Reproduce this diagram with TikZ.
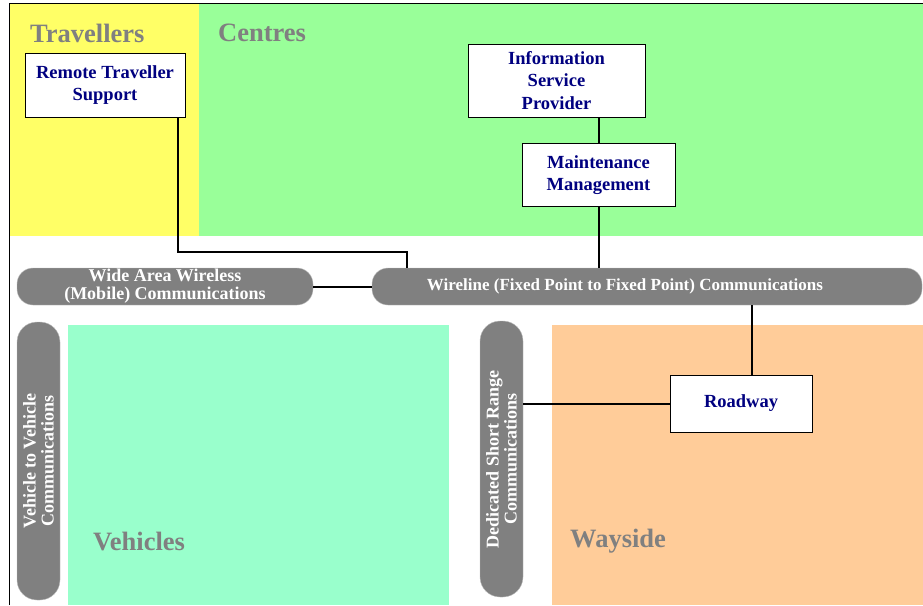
\documentclass[tikz,border=0pt]{standalone}
\usepackage{fontspec}
\setmainfont{Liberation Serif}
\usetikzlibrary{positioning}
\definecolor{travel}{HTML}{FFFF66}
\definecolor{centre}{HTML}{99FF99}
\definecolor{vehicle}{HTML}{99FFCC}
\definecolor{wayside}{HTML}{FFCC99}
\definecolor{pillgray}{HTML}{808080}
\definecolor{boxtext}{HTML}{000080}
\tikzset{
  areatitle/.style={text=pillgray,font=\fontsize{26.5}{30}\selectfont\bfseries,anchor=west,inner sep=0pt},
  subsys/.style={draw=black,fill=white,thick,text=boxtext,align=center,
    font=\fontsize{18.5}{22.5}\selectfont\bfseries,inner sep=0pt},
  commpill/.style={fill=pillgray,draw=pillgray!50,text=white,align=center,rounded corners=16pt,
    font=\fontsize{18}{18}\selectfont\bfseries,inner sep=0pt},
  link/.style={draw=black,line width=2pt}
}
\begin{document}
\begin{tikzpicture}[x=1pt,y=-1pt]
\useasboundingbox (0,0) rectangle (923,605);
% areas
\fill[travel] (10,3) rectangle (199,236);
\fill[centre] (199,3) rectangle (923,236);
\fill[vehicle] (68,325) rectangle (449,605);
\fill[wayside] (552,325) rectangle (923,605);
\draw[thick] (9,605) -- (9,3) -- (923,3);
% area titles
\node[areatitle] (ttrav) at (30,33) {Travellers};
\node[areatitle] (tcent) at (218,33) {Centres};
\node[areatitle] (tveh) at (93,541) {Vehicles};
\node[areatitle] (tway) at (570,541) {Wayside};
% subsystems
\node[subsys,minimum width=160pt,minimum height=64pt] (rts) at (105,85) {Remote Traveller\\Support};
\node[subsys,minimum width=177pt,minimum height=73pt] (isp) at (556.5,80.5) {Information\\Service\\Provider};
\node[subsys,minimum width=153pt,minimum height=63pt] (mm) at (598.5,175) {Maintenance\\Management};
\node[subsys,minimum width=142pt,minimum height=57pt] (road) at (741,403.5) {Roadway};
% communications
\node[commpill,minimum width=296pt,minimum height=37pt] (waw) at (165,286.5) {Wide Area Wireless\\(Mobile) Communications};
\node[commpill,minimum width=550pt,minimum height=37pt,font=\fontsize{17}{17}\selectfont\bfseries] (wire) at (647,286.5) {Wireline (Fixed Point to Fixed Point) Communications\hspace*{44pt}};
\node[commpill,minimum width=278pt,minimum height=43pt,rounded corners=20pt,rotate=90] (v2v) at (38.5,461) {Vehicle to Vehicle\\Communications};
\node[commpill,minimum width=276pt,minimum height=43pt,rounded corners=20pt,rotate=90] (dsrc) at (501.5,459) {Dedicated Short Range\\Communications};
% links
\coordinate (rtsbend) at (407,252);
\draw[link] ([xshift=-7pt]rts.south east) |- (rtsbend) -- (rtsbend |- wire.north);
\draw[link] (mm.north) -- (mm.north |- isp.south);
\draw[link] (mm.south) -- (mm.south |- wire.north);
\draw[link] (waw.east) -- (wire.west);
\draw[link] ([xshift=11pt]road.north) -- ([xshift=11pt]road.north |- wire.south);
\draw[link] (road.west) -- (road.west -| dsrc.south);
\end{tikzpicture}
\end{document}
